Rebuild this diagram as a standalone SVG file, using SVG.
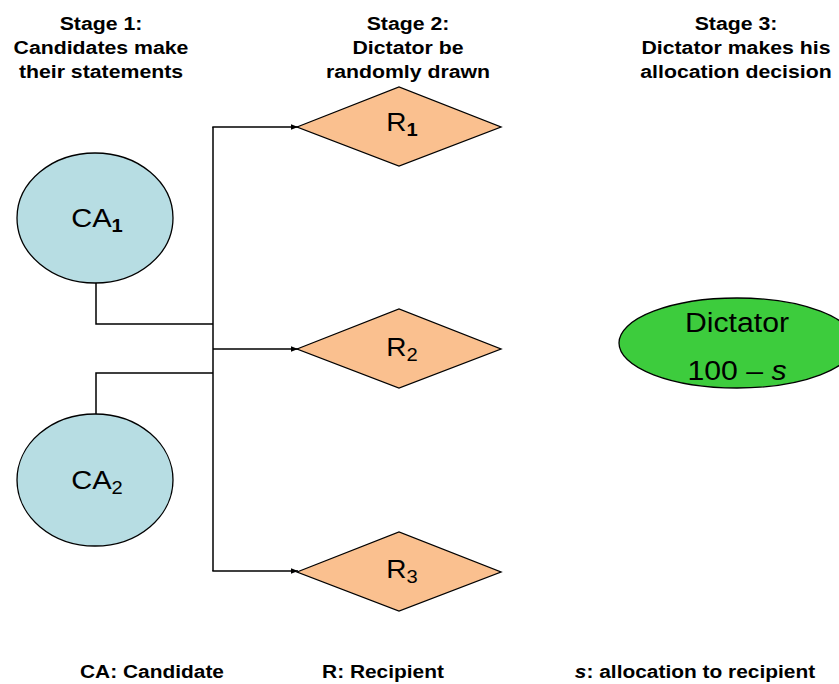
<svg xmlns="http://www.w3.org/2000/svg" width="839" height="684" viewBox="0 0 839 684">
<style>
  .t { font-family: "Liberation Sans", Arial, sans-serif; fill: #000; }
  .h { font-size: 19px; font-weight: bold; text-anchor: middle; }
  .lbl { font-size: 26px; }
  .rl { font-size: 25px; }
  .sub { font-size: 18px; font-weight: bold; }
  .ca { fill: #B7DDE3; stroke: #000; stroke-width: 1.3; }
  .r { fill: #FAC08F; stroke: #000; stroke-width: 1.3; }
  .dict { fill: #3DCC3D; stroke: #000; stroke-width: 1.3; }
  .conn { fill: none; stroke: #000; stroke-width: 1.5; }
</style>
<defs>
  <marker id="arr" viewBox="0 0 10 10" refX="10" refY="5" markerWidth="7" markerHeight="7" orient="auto" markerUnits="userSpaceOnUse">
    <path d="M0,1 L10,5 L0,9 Z" fill="#000"/>
  </marker>
</defs>
<rect width="839" height="684" fill="#fff"/>

<g id="headers">
  <g transform="translate(101,0) scale(1.12,1)">
    <text class="t h" x="0" y="30">Stage 1:</text>
    <text class="t h" x="0" y="54">Candidates make</text>
    <text class="t h" x="0" y="78">their statements</text>
  </g>
  <g transform="translate(408,0) scale(1.12,1)">
    <text class="t h" x="0" y="30">Stage 2:</text>
    <text class="t h" x="0" y="54">Dictator be</text>
    <text class="t h" x="0" y="78">randomly drawn</text>
  </g>
  <g transform="translate(736,0) scale(1.12,1)">
    <text class="t h" x="0" y="30">Stage 3:</text>
    <text class="t h" x="0" y="54">Dictator makes his</text>
    <text class="t h" x="0" y="78">allocation decision</text>
  </g>
</g>

<g id="connectors">
  <polyline class="conn" points="96,283 96,324 213,324"/>
  <polyline class="conn" points="96,414 96,373 213,373"/>
  <line class="conn" x1="213" y1="127" x2="213" y2="571"/>
  <line class="conn" x1="212.3" y1="127" x2="298" y2="127" marker-end="url(#arr)"/>
  <line class="conn" x1="213" y1="349" x2="298" y2="349" marker-end="url(#arr)"/>
  <line class="conn" x1="212.3" y1="571" x2="298" y2="571" marker-end="url(#arr)"/>
</g>

<g id="CA1">
  <ellipse class="ca" cx="95" cy="218" rx="78" ry="65"/>
  <g transform="translate(97,0) scale(1.12,1)">
    <text class="t" x="0" y="227" text-anchor="middle"><tspan class="lbl">CA</tspan><tspan class="sub" dy="5">1</tspan></text>
  </g>
</g>
<g id="CA2">
  <ellipse class="ca" cx="95" cy="480" rx="78" ry="66"/>
  <g transform="translate(97,0) scale(1.12,1)">
    <text class="t" x="0" y="489" text-anchor="middle"><tspan class="lbl">CA</tspan><tspan class="sub" dy="5" style="font-weight:normal">2</tspan></text>
  </g>
</g>

<g id="R1">
  <polygon class="r" points="297,127 399,87 501,127 399,166"/>
  <g transform="translate(402,0) scale(1.12,1)">
    <text class="t" x="0" y="131" text-anchor="middle"><tspan class="rl">R</tspan><tspan class="sub" dy="5">1</tspan></text>
  </g>
</g>
<g id="R2">
  <polygon class="r" points="297,349 399,309 501,349 399,388"/>
  <g transform="translate(402,0) scale(1.12,1)">
    <text class="t" x="0" y="356" text-anchor="middle"><tspan class="rl">R</tspan><tspan class="sub" dy="5" style="font-weight:normal">2</tspan></text>
  </g>
</g>
<g id="R3">
  <polygon class="r" points="297,572 399,532 501,572 399,611"/>
  <g transform="translate(402,0) scale(1.12,1)">
    <text class="t" x="0" y="578" text-anchor="middle"><tspan class="rl">R</tspan><tspan class="sub" dy="5" style="font-weight:normal">3</tspan></text>
  </g>
</g>

<g id="Dictator">
  <ellipse class="dict" cx="737" cy="343" rx="118" ry="45"/>
  <g transform="translate(737,0) scale(1.12,1)">
    <text class="t" x="0" y="332" text-anchor="middle" style="font-size:27px">Dictator</text>
    <text class="t" x="0" y="380" text-anchor="middle" style="font-size:27px">100 – <tspan font-style="italic">s</tspan></text>
  </g>
</g>

<g id="legend">
  <g transform="translate(152,0) scale(1.1,1)">
    <text class="t h" x="0" y="678">CA: Candidate</text>
  </g>
  <g transform="translate(383,0) scale(1.1,1)">
    <text class="t h" x="0" y="678">R: Recipient</text>
  </g>
  <g transform="translate(695,0) scale(1.1,1)">
    <text class="t h" x="0" y="678"><tspan font-style="italic">s</tspan>: allocation to recipient</text>
  </g>
</g>
</svg>
